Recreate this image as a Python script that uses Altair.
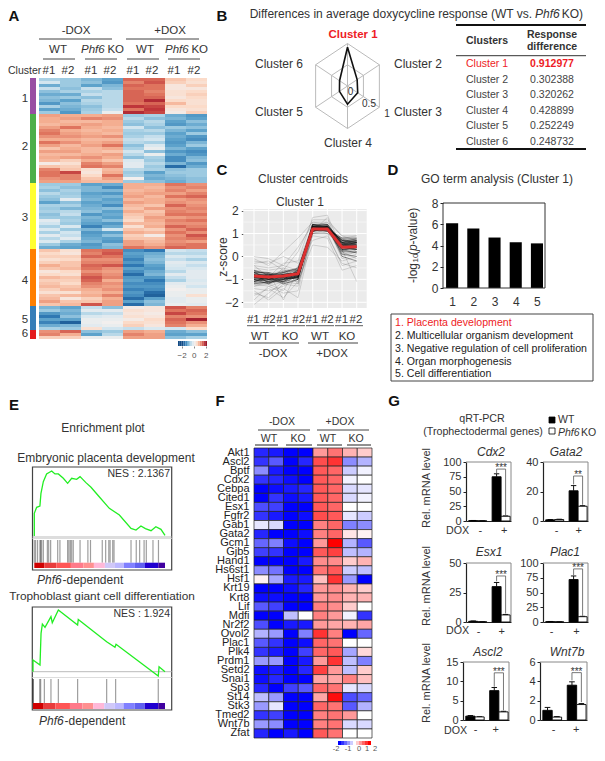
import altair as alt
import pandas as pd
import math

FONT = "Liberation Sans"
TXT = "#333333"
W, H = 589, 745
EMPTY = pd.DataFrame({"k": [0]})

# ---------------- data ----------------
A_rows = [
[-0.7,-0.8,-1.0,-1.2,1.3,1.3,0.6,0.4],[-0.4,-0.8,-0.9,-1.3,1.1,1.4,0.5,0.3],[-1.1,-0.8,-1.2,-1.0,1.3,1.2,0.2,0.5],
[-0.5,-0.9,-0.5,-0.9,1.2,1.2,0.2,0.2],[-0.9,-0.7,-0.7,-0.6,1.3,1.1,0.3,0.4],[-1.1,-1.1,-0.5,-0.6,1.3,1.2,0.3,0.5],
[-0.9,-0.8,-0.9,-0.6,1.3,1.3,0.2,0.4],[-1.0,-1.2,-0.6,-0.6,1.3,1.7,0.4,0.3],[-1.3,-0.9,-0.7,-0.6,1.2,1.3,0.7,0.3],
[-0.7,-1.0,-0.9,-0.6,1.6,1.5,0.4,0.4],[-1.2,-1.1,-0.8,-0.5,1.2,1.6,0.2,0.3],[-0.8,-1.3,-0.7,-0.1,1.7,1.5,0.1,0.5],
[0.9,0.8,0.8,0.9,-0.8,-0.7,-1.1,-1.3],[0.8,0.9,1.1,1.0,-0.6,-0.9,-1.0,-1.2],[0.8,0.7,0.7,0.8,-0.8,-0.6,-1.2,-0.9],
[0.7,0.8,0.9,0.8,-0.9,-0.7,-1.3,-1.1],[0.9,1.2,0.8,0.7,-0.4,-0.9,-0.8,-0.9],[1.1,0.8,0.7,0.8,-0.7,-0.6,-1.0,-1.2],
[1.2,0.9,0.8,0.7,-0.8,-0.8,-1.2,-0.8],[1.0,1.0,0.9,1.0,-0.7,-0.5,-1.1,-1.3],[0.8,0.8,0.7,0.7,-0.5,-0.4,-1.2,-1.4],
[1.2,1.0,0.8,0.9,-0.6,-0.7,-1.3,-1.0],[0.9,0.7,0.9,1.2,-0.9,-0.3,-1.2,-0.8],[0.6,0.8,0.7,0.8,-0.7,-0.1,-1.0,-1.2],
[0.9,0.9,0.7,0.6,-0.4,-0.9,-1.3,-1.4],[0.7,0.7,0.8,0.9,-0.6,-0.1,-1.1,-1.3],[0.8,0.9,1.0,0.8,-0.9,-0.7,-1.4,-1.0],
[0.7,0.5,0.8,0.6,-0.3,-0.8,-1.4,-0.9],[0.1,0.3,1.1,0.9,-0.2,-0.6,-1.0,-1.3],[0.6,0.5,1.2,1.1,-0.2,-0.8,-1.7,-1.1],
[1.1,0.6,0.3,0.7,-0.6,-0.7,-0.9,-0.8],[1.2,1.5,0.2,0.8,-0.8,-1.2,-0.8,-0.8],[1.2,1.1,0.4,1.2,-0.7,-1.0,-0.9,-0.8],
[1.0,1.1,0.6,0.9,0.0,-1.1,-1.0,-0.9],[0.9,0.9,0.7,0.7,-0.8,-0.9,-1.1,-0.9],
[-0.8,-0.8,-1.2,-1.1,0.8,0.8,1.2,1.0],[-0.7,-0.9,-1.0,-1.4,0.8,0.7,1.0,1.1],[-0.9,-0.7,-1.0,-1.0,0.7,0.8,1.1,0.9],
[-0.6,-0.8,-1.2,-1.3,0.8,0.9,0.9,1.1],[-0.8,-0.7,-1.1,-1.0,0.9,0.7,1.2,1.3],[-0.9,-0.2,-1.0,-1.2,0.7,0.8,0.9,1.0],
[-1.2,-0.9,-1.2,-1.1,0.9,0.8,1.0,0.9],[-0.7,-0.7,-1.1,-1.4,0.7,0.6,1.3,1.0],[-0.8,-1.0,-1.0,-0.9,0.6,0.9,1.0,1.1],
[-0.7,-0.6,-0.9,-1.2,0.8,0.6,1.1,1.0],[-0.9,-0.5,-1.3,-1.1,0.6,0.7,1.2,1.2],[-0.8,-0.8,-1.0,-1.2,0.5,0.9,0.9,1.0],
[-0.2,-0.7,-1.1,-0.9,0.4,0.8,1.1,1.2],[-0.4,-0.8,-1.2,-1.3,0.7,0.7,1.0,1.0],[-0.7,-0.3,-1.5,-1.1,0.3,0.8,1.3,1.1],
[-0.3,-0.8,-1.0,-0.4,0.6,0.5,1.0,1.3],[-0.7,-0.4,-1.3,-1.2,0.8,0.7,1.2,1.0],[-0.2,-0.5,-1.2,-0.9,0.5,0.1,1.0,1.4],
[-0.6,-0.2,-1.1,-1.2,0.6,0.6,1.1,1.2],[-0.3,-0.7,-1.0,-1.3,0.9,0.7,1.0,0.9],[-0.8,-1.1,-1.3,-0.9,0.9,0.8,1.1,1.2],
[-1.1,-1.2,-1.2,-1.0,1.2,1.0,1.3,1.2],
[0.6,0.3,1.2,1.3,-1.4,-1.6,-0.4,-0.5],[0.4,0.2,1.1,1.4,-1.2,-1.1,-0.6,-0.6],[0.5,0.5,1.3,1.2,-1.3,-1.0,-0.3,-0.4],
[0.3,0.4,1.0,1.0,-1.5,-0.9,-0.5,-0.7],[0.5,0.6,1.1,1.1,-1.3,-1.0,-0.2,-0.3],[0.8,0.6,1.3,1.4,-1.6,-1.2,-0.3,-0.5],
[0.6,0.7,1.2,1.0,-1.2,-1.3,-0.4,-0.3],[0.2,0.4,1.0,0.9,-1.4,-1.1,-0.6,-0.2],[0.4,0.3,1.2,1.0,-1.7,-1.0,-0.2,-0.2],
[0.7,0.6,1.4,1.1,-1.3,-1.3,-0.5,-0.2],[0.5,0.5,1.3,0.8,-1.2,-1.6,-0.7,-0.3],[0.6,0.4,1.1,1.0,-1.4,-1.4,-0.2,-0.2],
[0.7,0.6,1.0,0.9,-1.3,-1.3,-0.1,-0.4],[0.5,0.7,0.8,1.0,-1.5,-1.4,0.0,-0.1],[0.3,0.3,0.7,0.8,-1.3,-1.7,-0.1,-0.1],
[0.6,0.7,0.8,1.1,-1.4,-1.8,-0.1,0.3],[0.7,0.2,0.5,0.8,-1.7,-1.2,-0.2,-0.1],[0.9,0.6,0.6,0.9,-1.2,-0.9,-0.2,-0.1],
[0.6,0.7,1.4,0.9,-1.7,-1.0,-0.1,-0.2],
[-1.0,-1.2,-0.5,-0.9,0.1,0.2,1.4,1.1],[-0.8,-1.0,-0.2,-0.2,0.3,0.2,1.2,1.3],[-1.3,-1.1,-0.6,-0.5,0.2,0.1,1.5,1.2],
[-1.6,-0.9,-0.3,-0.2,0.3,0.2,1.1,1.0],[-1.2,-1.2,-0.1,-0.1,0.1,0.4,1.3,1.8],[-1.5,-1.8,-0.1,0.0,0.4,0.3,1.2,1.0],
[-1.1,-1.0,-0.2,-0.1,0.5,0.2,1.1,0.8],[-0.7,-0.8,0.3,-0.4,-0.5,-0.3,-0.4,0.4],
[1.0,1.3,-0.9,-0.8,0.9,0.8,-1.1,-0.9],[1.1,0.8,-1.2,-0.6,1.1,0.9,-1.2,-1.2],[0.5,0.5,-0.1,-0.1,0.9,0.9,-0.9,-0.7],
]
A_sizes = [12, 23, 22, 19, 8, 3]
A_clusters = ["1", "2", "3", "4", "5", "6"]
A_cluster_colors = ["#984ea3", "#4daf4a", "#ffff33", "#ff7f00", "#377eb8", "#e41a1c"]
A_legend = [-2.6, -2.3, -2.0, -1.7, -1.4, -1.1, -0.8, -0.5, -0.2, 0.1, 0.4, 0.7, 1.0, 1.3, 1.6, 1.9]

B_clusters = ["Cluster 1", "Cluster 2", "Cluster 3", "Cluster 4", "Cluster 5", "Cluster 6"]
B_diff = [0.912977, 0.302388, 0.320262, 0.428899, 0.252249, 0.248732]

C_outer = [
[-1.0,-1.2,-1.0,-0.9,1.2,1.3,0.6,0.6],[-0.6,-0.7,-0.8,-0.6,1.3,1.2,0.5,0.5],[-1.1,-1.0,-1.2,-1.0,1.1,1.1,0.3,0.4],
[-0.8,-0.9,-0.7,-0.8,1.4,1.4,0.6,0.7],[-0.7,-1.0,-0.8,-0.7,1.2,1.3,0.4,0.3],[-0.9,-1.1,-0.9,-0.5,1.0,1.1,0.5,0.4],
[-1.2,-1.3,-1.1,-0.9,1.2,1.2,0.2,0.3],[-0.5,-0.6,-0.5,-0.7,1.1,1.2,0.7,0.6],[-1.0,-0.8,-1.0,-0.8,1.3,1.3,0.5,0.7],
[-0.7,-0.8,-0.6,-0.8,1.5,1.4,0.4,0.5],[-1.3,-1.2,-1.0,-1.1,1.2,1.0,0.5,0.6],[-0.6,-0.9,-0.9,-0.9,1.1,1.2,0.6,0.8],
[-0.9,-0.7,-1.1,-0.7,1.3,1.5,0.3,0.4],[-0.8,-1.1,-0.8,-1.0,1.4,1.2,0.7,0.6],[-1.1,-0.9,-0.7,-0.9,1.2,1.1,0.6,0.5],
[-0.4,-0.5,-0.4,-0.6,1.0,1.0,0.8,0.8],[-1.4,-1.5,-1.3,-1.0,1.2,1.3,0.1,0.2],[-0.2,-0.3,0.0,-0.3,1.3,1.2,0.8,0.9],
[0.0,-0.1,-0.4,0.4,1.4,1.2,0.6,0.2],[-0.1,-0.4,0.2,0.8,1.5,1.5,0.9,0.9],[-1.6,-1.8,-1.2,-1.3,1.1,1.3,-0.1,0.1],
[-1.9,-1.3,-1.6,-1.5,1.2,1.1,0.2,-0.1],[-1.5,-1.9,-1.4,-1.8,1.0,1.2,0.3,0.4],[-2.1,-1.6,-1.1,-1.2,0.9,0.8,-0.6,-0.4],
[-0.3,-0.2,-0.6,0.2,1.6,1.6,0.9,0.7],[-1.2,-0.7,-1.9,-0.6,0.7,0.9,-0.3,-0.5],[-0.4,-0.9,-0.3,-0.2,1.7,1.8,0.3,-1.1],
[-1.7,-1.4,-1.8,-1.1,0.5,0.4,-0.2,0.0],[-0.6,-1.2,-1.5,-0.4,1.1,1.7,0.0,0.2],[-1.3,-1.1,-0.5,-1.2,1.0,1.0,-0.4,-0.2],
]
C_core = [
[-0.9,-0.8,-1.0,-0.6,1.2,1.3,0.4,0.5],[-0.8,-0.9,-0.9,-0.8,1.2,1.1,0.5,0.4],[-0.9,-1.0,-0.8,-0.7,1.3,1.2,0.3,0.3],
[-1.0,-0.9,-0.9,-0.8,1.3,1.3,0.6,0.5],[-0.8,-0.8,-0.8,-0.9,1.1,1.2,0.5,0.6],[-0.7,-0.9,-1.0,-0.9,1.3,1.4,0.6,0.6],
[-0.9,-1.0,-1.1,-0.8,1.4,1.3,0.7,0.5],[-1.0,-1.1,-0.8,-0.7,1.1,1.3,0.4,0.6],[-1.1,-1.0,-1.0,-0.9,1.2,1.2,0.7,0.7],
[-0.8,-1.0,-0.7,-0.6,1.3,1.1,0.6,0.7],[-0.9,-0.9,-1.2,-1.0,1.4,1.4,0.5,0.3],[-0.7,-0.7,-0.9,-0.7,1.2,1.2,0.2,0.2],
[-1.0,-1.2,-0.8,-0.9,1.3,1.2,0.8,0.8],[-0.6,-0.8,-0.7,-0.5,1.2,1.3,0.1,0.0],[-1.2,-1.1,-1.1,-0.7,1.1,1.3,0.0,-0.2],
[-0.9,-0.9,-0.9,-0.7,1.25,1.25,0.45,0.55],[-0.85,-0.95,-0.85,-0.8,1.35,1.2,0.55,0.45],[-0.75,-0.85,-0.8,-0.85,1.15,1.15,0.35,0.35],
[-1.05,-0.95,-1.05,-0.65,1.25,1.35,0.65,0.65],[-0.95,-1.05,-0.75,-0.75,1.3,1.25,0.5,0.6],[-0.65,-0.75,-0.95,-0.9,1.2,1.3,0.25,0.45],
[-1.15,-1.15,-0.95,-0.95,1.3,1.35,0.6,0.4],[-0.85,-0.85,-0.65,-0.55,1.4,1.25,0.7,0.75],[-0.95,-0.75,-1.15,-0.85,1.15,1.2,0.4,0.3],
[-1.1,-0.85,-0.9,-1.0,1.35,1.3,0.55,0.65],[-0.8,-1.15,-1.0,-0.6,1.2,1.15,0.75,0.6],[-0.7,-1.0,-0.85,-0.75,1.1,1.25,0.3,0.15],
]
C_mean = [-0.85, -0.9, -0.85, -0.75, 1.2, 1.2, 0.4, 0.42]

D_terms = [1, 2, 3, 4, 5]
D_vals = [6.1, 5.6, 4.75, 4.3, 4.2]
D_text = ["1. Placenta development", "2. Multicellular organism development",
          "3. Negative regulation of cell proliferation", "4. Organ morphogenesis", "5. Cell differentiation"]

E1_rank = [0,0,1.8,4.3,5.1,6.9,9.4,13.3,15.8,18.4,22.2,25.5,28.6,32.4,35,39.5,43.4,48.5,57.4,65.1,74,77.8,81.6,85,89.3,93,96.9,100]
E1_es = [0,.34,.43,.45,.64,.815,.93,.975,.93,.93,.865,.79,.865,.85,.89,.80,.73,.615,.415,.315,.115,.09,.15,.11,.08,.14,.10,.01]
E1_hits = [0,1,2.5,4.3,4.8,5.6,6.9,10,11,12.5,17.9,19.6,25.5,26.5,27.6,28.6,29.8,35,41,43,52,54.6,57,58,60,61,74,78,80.6,84,85.7,90.8,95]
E2_rank = [0,0,5.3,5.6,6.1,7.1,9.1,13.6,14.6,19.2,33.8,34.3,55.8,62.1,62.9,94.9,95.5,100]
E2_es = [0,.194,.11,.306,.64,.794,.74,.917,.817,1.03,.778,.872,.5,.406,.456,-.072,.083,0]
E2_hits = [0,0.3,5.1,5.8,8.6,13.6,19.2,33.8,55.8,62.6,94.9]
E_strip_edges = [0,7.6,17,28,37.5,45.6,54,61.7,68.6,77,84.7,94.9,100]
E_strip_colors = ["#d00000","#e83c3c","#ff5555","#ff7a8a","#ff9090","#ffb8d8","#d0c8f8","#bcb8ff","#8080ff","#6060f0","#2000d0","#4000a0"]

F_genes = ["Akt1","Ascl2","Bptf","Cdx2","Cebpa","Cited1","Esx1","Fgfr2","Gab1","Gata2","Gcm1","Gjb5","Hand1","Hs6st1","Hsf1","Krt19",
           "Krt8","Lif","Mdfi","Nr2f2","Ovol2","Plac1","Plk4","Prdm1","Setd2","Snai1","Sp3","St14","Stk3","Tmed2","Wnt7b","Zfat"]
F_vals = [
[-1.7,-1.8,-2,-2,0.8,1.1,0.6,0.4],[-1.6,-1.3,-2,-1.7,1.4,1.6,-0.9,-0.6],[-0.9,-1.8,-2,-2,1.3,1.2,-0.4,-0.1],[-1.6,-1.7,-1.9,-2,1.3,1.2,-0.1,0],
[-2,-1.9,-1.8,-1.7,1.3,1.2,-0.3,-0.2],[-2,-1.6,-1.9,-1.8,1.3,1.2,-0.3,-0.1],[-1.4,-1.5,-2,-2,1.3,1.2,0,0],[-1.6,-1.8,-2,-1.9,1.4,1.3,-0.2,-0.4],
[-0.2,-0.3,-2,-2,1,1.2,-1,-0.9],[-1.7,-2,-2,-1.9,1.0,1.2,0.2,0.1],[-1.2,-1.0,-1.9,-2,0.8,2,-0.6,-1.3],[-1.5,-1.6,-2,-2,1.3,1.5,-0.5,-0.6],
[-2,-2,-2,-1.8,0.9,0.9,0.4,0.6],[-0.9,-1.1,-2,-2,1.1,1.3,-0.4,-0.5],[0.1,-0.7,-1.8,-1.8,0.5,1.6,-0.8,-2],[-2,-2,-1.9,-1.7,0.8,0.9,0.6,0.4],
[-1.9,-1.9,-2,-2,0.8,0.9,0.6,0.6],[-1.3,-1.5,-2,-2,1.0,0.9,0.4,0.0],[-2,-2,-0.5,0,1.0,0.8,-0.1,-1.6],[-1.4,-2,-1.8,-1.8,0.8,0.7,0.6,0.7],
[-0.6,-0.8,-2,-1.0,1.6,1.0,-2,-1.2],[-1.3,-1.6,-2,-1.9,1.2,1.1,0,0],[-1.6,-1.8,-2,-1.5,1.2,1.3,-0.7,0.3],[-0.8,-0.8,-2,-1.8,0.8,1.6,-0.5,-1],
[-1.9,-1.8,-2,-1.7,1.5,0.8,-0.5,0.4],[-1.9,-1.7,-2,-2,0.7,0.7,1,0.5],[-1.7,-2,-1.5,-1.3,1.2,1.1,-0.2,-0.3],[-0.5,-0.8,-2,-2,0.7,1.9,-1.4,-1.2],
[-0.8,-0.2,-2,-2,1.2,1.1,-1.3,-0.6],[-1.6,-1.5,-2,-2,1.0,1.1,0.8,0.0],[-0.8,-0.9,-2,-2,1.0,1.1,-0.3,-0.3],[-1.7,-2,-1.8,-2,1.3,1.1,0,0],
]
F_legend = [-2, -1.6, -1.2, -0.8, -0.4, 0, 0.4, 0.8, 1.2, 1.6, 2]

G_names = ["Cdx2", "Gata2", "Esx1", "Plac1", "Ascl2", "Wnt7b"]
G_max = [100, 40, 50, 100, 15, 6]
G_ticks = [[0,25,50,75,100],[0,20,40],[0,25,50],[0,25,50,75,100],[0,5,10,15],[0,2,4,6]]
G_means = [[0.6,0.3,75,8],[0.8,1,20.5,10],[0.6,0.2,30,6],[0.6,0.3,72,9],[1,0.8,7.6,2.1],[1,0.3,3.6,1.6]]
G_errs = [[0.9,0.4,80,8.6],[1,1.2,24,10.4],[0.9,0.3,33.5,6.4],[0.9,0.4,78,9.6],[1.15,0.85,8.4,2.25],[1.3,0.35,3.95,1.7]]
G_bracket = [88, 30.5, 39, 90, 12.2, 4.9]
G_bracket_ends = [[81,9.5],[24.8,11],[34.5,7.2],[79,10.5],[8.6,2.5],[4.1,1.85]]
G_stars = ["***", "**", "***", "***", "***", "***"]
G_signs = [[1.55,4.2],[1.45,3.9],[1.33,3.9],[0.9,3.67],[1.3,3.5],[1.4,3.8]]
G_status = ["WT", "KO", "WT", "KO"]
G_left = [0.3, 1.3, 2.9, 3.9]

# ---------------- helpers (page pixel -> chart pixel) ----------------
L = []

def px(v):
    return alt.value(v - 8)

def label(t, x, y, size=12, align="center", color=TXT, style="normal", weight="normal", angle=0):
    L.append(alt.Chart(EMPTY).mark_text(text=t, align=align, baseline="middle", fontSize=size, font=FONT,
                                        color=color, fontStyle=style, fontWeight=weight, angle=angle)
             .encode(x=px(x), y=px(y)))

def rule(x0, y0, x1, y1, color="#444444", width=1.0):
    L.append(alt.Chart(EMPTY).mark_rule(color=color, strokeWidth=width)
             .encode(x=px(x0), x2=px(x1), y=px(y0), y2=px(y1)))

def box(x0, y0, x1, y1, fill="transparent", stroke="#444444", width=1.0):
    L.append(alt.Chart(EMPTY).mark_rect(fill=fill, stroke=stroke, strokeWidth=width)
             .encode(x=px(x0), x2=px(x1), y=px(y0), y2=px(y1)))

def qs(domain, a, b):
    return alt.Scale(domain=domain, range=[a - 8, b - 8], nice=False, zero=False)

def bs(domain, a, b):
    return alt.Scale(domain=domain, range=[a - 8, b - 8], paddingInner=0, paddingOuter=0)

def left_axis(x, **kw):
    base = dict(orient="left", offset=-(x - 8), title=None, grid=False, labelFont=FONT, labelColor=TXT,
                domainColor="#222222", tickColor="#222222", labelFontSize=11, tickSize=3, labelOverlap=False)
    base.update(kw)
    return alt.Axis(**base)

def bottom_axis(y, **kw):
    base = dict(orient="bottom", offset=(y - 8) - H, title=None, grid=False, labelFont=FONT, labelColor=TXT,
                domainColor="#222222", tickColor="#222222", labelFontSize=11, tickSize=3, labelOverlap=False,
                labelAngle=0)
    base.update(kw)
    return alt.Axis(**base)

# ---------------- panel letters ----------------
for t, x, y in [("A", 14, 16), ("B", 222, 16), ("C", 222, 170), ("D", 393, 170), ("E", 14, 405), ("F", 220, 401), ("G", 394, 401)]:
    label(t, x, y, size=15, weight="bold", color="#111111")

# ---------------- A ----------------
a_records = [{"r": i, "c": j, "v": v} for i, row in enumerate(A_rows) for j, v in enumerate(row)]
a_cols = list(range(8))
a_row_ids = list(range(len(A_rows)))
a_color = alt.Scale(scheme="redblue", reverse=True, domain=[-2, 2], clamp=True)
L.append(alt.Chart(pd.DataFrame(a_records)).mark_rect().encode(
    x=alt.X("c:O", scale=bs(a_cols, 39, 207), axis=None),
    y=alt.Y("r:O", scale=bs(a_row_ids, 78, 339), axis=None),
    color=alt.Color("v:Q", scale=a_color, legend=None)))
starts = [sum(A_sizes[:i]) for i in range(len(A_sizes))]
a_side = pd.DataFrame({"cl": A_clusters, "s": starts, "e": [s + n for s, n in zip(starts, A_sizes)]})
L.append(alt.Chart(a_side).mark_rect().encode(
    x=px(30), x2=px(36),
    y=alt.Y("s:Q", scale=qs([0, sum(A_sizes)], 78, 339), axis=None), y2="e:Q",
    color=alt.Color("cl:N", scale=alt.Scale(domain=A_clusters, range=A_cluster_colors), legend=None)))
for t, y in zip(A_clusters, [99, 147, 218, 281, 320, 334]):
    label(t, 25, y, size=11.5)
label("-DOX", 76, 31, 11.5); label("+DOX", 170, 31, 11.5)
rule(39, 39, 112, 39); rule(126, 39, 199, 39)
for x in (58, 145):
    label("WT", x, 50, 11.5)
for x in (81, 165):
    label("Phf6", x, 50, 11.5, align="left", style="italic")
    label("KO", x + 43, 50, 11.5, align="right")
for a, b in [(43, 75), (85, 117), (127, 159), (168, 200)]:
    rule(a, 59, b, 59)
label("Cluster", 8, 71, 10.5, align="left")
for i, x in enumerate([49, 68, 91, 110, 133, 152, 174, 194]):
    label("#1" if i % 2 == 0 else "#2", x, 71, 11.5)
a_leg = pd.DataFrame({"v": A_legend, "v2": [v + 0.3 for v in A_legend]})
L.append(alt.Chart(a_leg).mark_rect().encode(
    x=alt.X("v:Q", scale=qs([-2.6, 2.2], 178, 207),
            axis=bottom_axis(346, values=[-2, 0, 2], domain=False, labelFontSize=8, tickColor="#888888", tickSize=2,
                             labelPadding=3, labelColor="#555555", format="d")),
    x2="v2:Q", y=px(341), y2=px(346),
    color=alt.Color("v:Q", scale=a_color, legend=None)))

# ---------------- B radar ----------------
label("Differences in average doxycycline response (WT vs.", 532, 14, 12, align="right")
label("Phf6", 535, 14, 12, align="left", style="italic")
label("KO)", 583, 14, 12, align="right")
angles = [math.radians(90 - 60 * i) for i in range(6)]
ring_recs = []
for r in (0.5, 1.0):
    for k in range(7):
        a = angles[k % 6]
        ring_recs.append({"g": f"r{r}", "o": k, "x": r * math.cos(a), "y": r * math.sin(a)})
for i, a in enumerate(angles):
    ring_recs.append({"g": f"s{i}", "o": 0, "x": 0, "y": 0})
    ring_recs.append({"g": f"s{i}", "o": 1, "x": math.cos(a), "y": math.sin(a)})
rx, ry = qs([-1, 1], 310.7, 384.3), qs([-1, 1], 128.5, 43.5)
L.append(alt.Chart(pd.DataFrame(ring_recs)).mark_line(color="#bbbbbb", strokeWidth=1).encode(
    x=alt.X("x:Q", scale=rx, axis=None), y=alt.Y("y:Q", scale=ry, axis=None), detail="g:N", order="o:Q"))
radar = [{"o": k, "x": B_diff[k % 6] * math.cos(angles[k % 6]), "y": B_diff[k % 6] * math.sin(angles[k % 6])} for k in range(7)]
L.append(alt.Chart(pd.DataFrame(radar)).mark_line(color="#111111", strokeWidth=1.6).encode(
    x=alt.X("x:Q", scale=rx, axis=None), y=alt.Y("y:Q", scale=ry, axis=None), order="o:Q"))
label("Cluster 1", 353, 35, 11.5, color="#ee1c25", weight="bold")
for t, x, y in [("Cluster 2", 418, 64), ("Cluster 3", 418, 112), ("Cluster 4", 348, 143), ("Cluster 5", 279, 112), ("Cluster 6", 279, 64)]:
    label(t, x, y, 12)
label("0", 350.5, 92, 10); label("0.5", 369, 104, 10); label("1", 387, 113.5, 10)
rule(456, 25, 586, 25, "#111111", 2); rule(456, 55.7, 586, 55.7, "#333333", 1); rule(456, 149, 586, 149, "#111111", 2)
label("Clusters", 487, 41, 10.5, weight="bold"); label("Response", 552, 35, 10.5, weight="bold"); label("difference", 552, 47, 10.5, weight="bold")
tbl = pd.DataFrame({"c": B_clusters, "d": [f"{v:.6f}" for v in B_diff]})
ty = alt.Y("c:N", scale=alt.Scale(domain=B_clusters, range=[56, 133.7], type="point", padding=0), axis=None)
tc = alt.Color("c:N", scale=alt.Scale(domain=B_clusters, range=["#ee1c25"] + ["#444444"] * 5), legend=None)
L.append(alt.Chart(tbl).mark_text(font=FONT, fontSize=10.5, baseline="middle").encode(x=px(487), y=ty, text="c:N", color=tc))
L.append(alt.Chart(tbl).transform_filter(alt.datum.c != "Cluster 1").mark_text(font=FONT, fontSize=10.5, baseline="middle").encode(
    x=px(552), y=ty, text="d:N", color=tc))
L.append(alt.Chart(tbl).transform_filter(alt.datum.c == "Cluster 1").mark_text(font=FONT, fontSize=10.5, baseline="middle", fontWeight="bold").encode(
    x=px(552), y=ty, text="d:N", color=tc))

# ---------------- C ----------------
label("Cluster centroids", 303, 179, 12); label("Cluster 1", 300, 202, 12)
label("z-score", 223, 257, 12, angle=270)
box(243.3, 209, 366.7, 308, fill="#ebebeb", stroke="transparent", width=0)
cx = qs([0.27, 8.68], 243.3, 366.7)
cy = qs([-2.25, 2.07], 308, 209)
pos = list(range(1, 9))
L.append(alt.Chart(pd.DataFrame({"x": pos})).mark_rule(color="white", strokeWidth=1).encode(
    x=alt.X("x:Q", scale=cx, axis=None), y=px(209), y2=px(308)))
L.append(alt.Chart(pd.DataFrame({"y": [-2, -1, 0, 1, 2]})).mark_rule(color="white", strokeWidth=1).encode(
    y=alt.Y("y:Q", scale=cy, axis=left_axis(243.3, domain=False, values=[-2, -1, 0, 1, 2], tickSize=2, tickColor="#555555", labelPadding=3, labelFontSize=12, format="d")),
    x=px(243.3), x2=px(366.7)))
L.append(alt.Chart(pd.DataFrame({"y": [-1.5, -0.5, 0.5, 1.5]})).mark_rule(color="white", strokeWidth=0.5).encode(
    y=alt.Y("y:Q", scale=cy, axis=None), x=px(243.3), x2=px(366.7)))
for lines, op, sw in [(C_outer, 0.3, 0.5), (C_core, 0.7, 0.6)]:
    c_recs = [{"g": i, "x": p, "y": v} for i, row in enumerate(lines) for p, v in zip(pos, row)]
    L.append(alt.Chart(pd.DataFrame(c_recs)).mark_line(color="#111111", strokeWidth=sw, opacity=op).encode(
        x=alt.X("x:Q", scale=cx, axis=None), y=alt.Y("y:Q", scale=cy, axis=None), detail="g:N"))
L.append(alt.Chart(pd.DataFrame({"x": pos, "y": C_mean})).mark_line(color="#dc3030", strokeWidth=3).encode(
    x=alt.X("x:Q", scale=cx, axis=None), y=alt.Y("y:Q", scale=cy, axis=None)))
for i, x in enumerate([253.3, 269.3, 282.7, 298.7, 312, 327.3, 341.7, 356]):
    label("#1" if i % 2 == 0 else "#2", x, 320, 11.5)
for a, b in [(247, 275), (277, 305), (306, 334), (335, 363)]:
    rule(a, 325.7, b, 325.7, "#333333", 0.8)
for t, x in [("WT", 260), ("KO", 290), ("WT", 320), ("KO", 347)]:
    label(t, x, 337, 11.5)
rule(249, 343, 299, 343); rule(308, 343, 358, 343)
label("-DOX", 273, 354, 11.5); label("+DOX", 332, 354, 11.5)

# ---------------- D ----------------
label("GO term analysis (Cluster 1)", 497, 179, 12)
dx = qs([0.57, 5.38], 443, 545)
dy = qs([0, 8], 288, 203)
d_df = pd.DataFrame({"t": D_terms, "a": [t - 0.285 for t in D_terms], "b": [t + 0.285 for t in D_terms], "v": D_vals})
L.append(alt.Chart(d_df).mark_rect(color="#000000").encode(
    x=alt.X("t:Q", scale=dx, axis=bottom_axis(288, values=D_terms, domain=False, labelFontSize=12, labelPadding=8, tickSize=0, format="d")),
    y=alt.Y("v:Q", scale=dy, axis=left_axis(443, values=[0, 2, 4, 6, 8], domain=False, labelFontSize=12, format="d")),
    opacity=alt.value(0)))
L.append(alt.Chart(d_df).mark_rect(color="#000000").encode(
    x=alt.X("a:Q", scale=dx, axis=None), x2="b:Q",
    y=alt.Y("v:Q", scale=dy, axis=None), y2=alt.datum(0)))
box(443, 203, 545, 288, stroke="#333333", width=1)
label("-log", 413, 283, 12, align="left", angle=270)
label("10", 416, 262.5, 8, align="left", angle=270)
label("(", 413, 255, 12, align="left", angle=270)
label("p", 413, 251, 12, align="left", angle=270, style="italic")
label("-value)", 413, 244.5, 12, align="left", angle=270)
box(391, 314, 593, 381, stroke="#444444", width=1)
for i, (t, y) in enumerate(zip(D_text, [323, 336, 349, 362, 374])):
    label(t, 395, y, 10.6, align="left", color="#ee1c25" if i == 0 else "#222222")

# ---------------- E ----------------
def gsea(rank, es, hits, x0, x1, y0, y1, top, bottom, band_y, strip_top, strip_bot, frame):
    box(*frame, stroke="#444444", width=1.2)
    ex = qs([0, 100], x0, x1)
    ey = qs([0, 1], y0, y1)
    L.append(alt.Chart(pd.DataFrame({"x": hits})).mark_rule(color="#000000", strokeWidth=1.2, opacity=0.38).encode(
        x=alt.X("x:Q", scale=ex, axis=None), y=px(top), y2=px(bottom)))
    sdf = pd.DataFrame({"a": E_strip_edges[:-1], "b": E_strip_edges[1:], "c": E_strip_colors})
    L.append(alt.Chart(sdf).mark_rect().encode(
        x=alt.X("a:Q", scale=ex, axis=None), x2="b:Q", y=px(strip_top), y2=px(strip_bot),
        fill=alt.Fill("c:N", scale=None, legend=None)))
    rule(frame[0], band_y, frame[2], band_y, "#bbbbbb", 1)
    rule(frame[0], top - 1.5, frame[2], top - 1.5, "#dddddd", 1)
    L.append(alt.Chart(pd.DataFrame({"x": rank, "y": es, "o": list(range(len(rank)))})).mark_line(color="#22ee22", strokeWidth=1.3).encode(
        x=alt.X("x:Q", scale=ex, axis=None), y=alt.Y("y:Q", scale=ey, axis=None), order="o:Q"))

label("Enrichment plot", 103, 428, 12)
label("Embryonic placenta development", 106, 458, 12)
gsea(E1_rank, E1_es, E1_hits, 34.3, 165, 536, 469.3, 540, 562.7, 537, 562.7, 568, (32.5, 467, 171.7, 570))
label("NES : 2.1367", 170, 474, 10.5, align="right")
label("Phf6", 37, 580, 12, align="left", style="italic"); label("-dependent", 62.5, 580, 12, align="left")
label("Trophoblast giant cell differentiation", 102, 596, 11.8)
gsea(E2_rank, E2_es, E2_hits, 33, 165, 671.7, 611.7, 679, 703, 671.7, 703, 709, (32.3, 607, 171.7, 710))
label("NES : 1.924", 170, 614, 10.5, align="right")
label("Phf6", 39, 721, 12, align="left", style="italic"); label("-dependent", 64.5, 721, 12, align="left")

# ---------------- F ----------------
f_recs = [{"g": g, "c": j, "v": v} for g, row in zip(F_genes, F_vals) for j, v in enumerate(row)]
f_color = alt.Scale(domain=[-2, 0, 2], range=["#0000ff", "#ffffff", "#ff0000"], clamp=True, interpolate="rgb")
L.append(alt.Chart(pd.DataFrame(f_recs)).mark_rect(stroke="#222222", strokeWidth=0.7).encode(
    x=alt.X("c:O", scale=bs(list(range(8)), 254, 372), axis=None),
    y=alt.Y("g:N", scale=bs(F_genes, 448, 738),
            axis=left_axis(254, domain=False, ticks=False, labelPadding=5, labelFontSize=11, labelColor="#222222")),
    color=alt.Color("v:Q", scale=f_color, legend=None)))
label("-DOX", 282, 422, 10.5); label("+DOX", 340, 422, 10.5)
rule(258, 430, 310, 430); rule(317, 430, 369, 430)
for t, x in [("WT", 269), ("KO", 298), ("WT", 328), ("KO", 356)]:
    label(t, x, 439, 10.5)
for a, b in [(255, 278), (286, 312), (317, 342), (347, 371)]:
    rule(a, 445, b, 445, "#222222", 1)
L.append(alt.Chart(pd.DataFrame({"v": F_legend})).mark_rect().encode(
    x=alt.X("v:O", scale=bs(F_legend, 338, 371), axis=None), y=px(741), y2=px(745),
    color=alt.Color("v:Q", scale=f_color, legend=None)))
for t, x in [("-2", 336), ("-1", 348), ("0", 359), ("1", 367), ("2", 375)]:
    label(t, x, 749, 7.5, color="#555555")

# ---------------- G ----------------
label("qRT-PCR", 482, 419, 10.7); label("(Trophectodermal genes)", 483, 432, 10.7)
box(549, 417, 555, 423, fill="#000000", stroke="#000000", width=0.8)
box(549, 428, 555, 434, fill="#ffffff", stroke="#000000", width=0.8)
label("WT", 558, 420, 10.5, align="left")
label("Phf6", 558, 433, 10.5, align="left", style="italic"); label("KO", 581, 433, 10.5, align="left")

G_geom = [(466, 511, 462, 521), (543, 588, 462, 521), (466, 511, 563, 622), (543, 588, 563, 622), (463, 509, 662, 720), (540, 587, 662, 720)]
G_title = [(491, 452), (566, 452), (489, 552), (565, 552), (488, 652), (567, 652)]
for i, name in enumerate(G_names):
    x0, x1, t, b = G_geom[i]
    gx = qs([0, 5], x0, x1)
    gy = qs([0, G_max[i]], b, t)
    label(name, G_title[i][0], G_title[i][1], 12, style="italic")
    rule(x0, t, x1, t, "#888888", 1); rule(x1, t, x1, b, "#888888", 1)
    df = pd.DataFrame({"a": G_left, "b": [v + 1 for v in G_left], "m": [v + 0.5 for v in G_left],
                       "v": G_means[i], "e": G_errs[i], "s": G_status})
    # error bars
    L.append(alt.Chart(df).mark_rule(color="#111111", strokeWidth=1).encode(
        x=alt.X("m:Q", scale=gx, axis=None), y=alt.Y("v:Q", scale=gy, axis=None), y2="e:Q"))
    df2 = df.assign(c0=df["m"] - 0.3, c1=df["m"] + 0.3)
    L.append(alt.Chart(df2).mark_rule(color="#111111", strokeWidth=1).encode(
        x=alt.X("c0:Q", scale=gx, axis=None), x2="c1:Q", y=alt.Y("e:Q", scale=gy, axis=None)))
    L.append(alt.Chart(df).mark_rect(stroke="#000000", strokeWidth=0.9).encode(
        x=alt.X("a:Q", scale=gx,
                axis=bottom_axis(b, values=G_signs[i], ticks=False, labelExpr="datum.value < 3 ? '-' : '+'",
                                 labelPadding=3, labelFontSize=11, domainWidth=1.2)),
        x2="b:Q",
        y=alt.Y("v:Q", scale=gy, axis=left_axis(x0, values=G_ticks[i], labelFontSize=11, format="d", domainWidth=1.2)),
        y2=alt.datum(0),
        fill=alt.Fill("s:N", scale=alt.Scale(domain=["WT", "KO"], range=["#000000", "#ffffff"]), legend=None)))
    top = G_bracket[i]
    ends = G_bracket_ends[i]
    br = pd.DataFrame({"x": [3.4, 3.4, 4.4, 4.4], "y": [ends[0], top, top, ends[1]], "o": [0, 1, 2, 3]})
    L.append(alt.Chart(br).mark_line(color="#555555", strokeWidth=0.8).encode(
        x=alt.X("x:Q", scale=gx, axis=None), y=alt.Y("y:Q", scale=gy, axis=None), order="o:Q"))
    L.append(alt.Chart(pd.DataFrame({"x": [3.9], "y": [top], "t": [G_stars[i]]})).mark_text(
        font=FONT, fontSize=10, color="#333333", baseline="middle", dy=-1).encode(
        x=alt.X("x:Q", scale=gx, axis=None), y=alt.Y("y:Q", scale=gy, axis=None), text="t:N"))

for y in (488, 586, 683):
    label("Rel. mRNA level", 427, y, 11, angle=270)
for x, y in [(446, 531), (446, 631), (444, 731)]:
    label("DOX", x, y, 10.7, align="left")

chart = alt.layer(*L).resolve_scale(x="independent", y="independent", color="independent", fill="independent").resolve_axis(
    x="independent", y="independent").properties(
    width=W, height=H, padding=0, autosize=alt.AutoSizeParams(type="none"),
    background="white").configure_view(stroke=None)

chart.save("out.html", embed_options={"renderer": "svg", "actions": False})
